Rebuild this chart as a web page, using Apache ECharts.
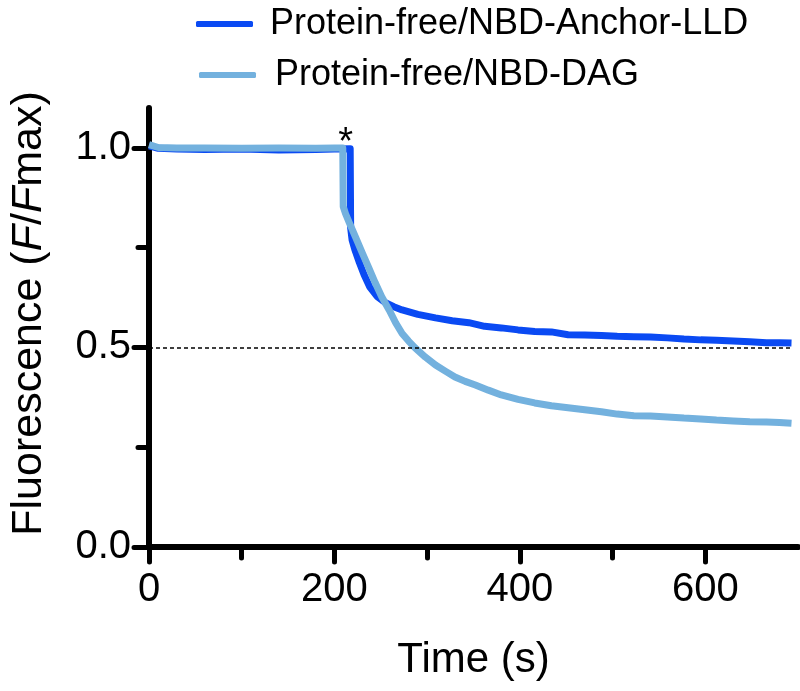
<!DOCTYPE html>
<html>
<head>
<meta charset="utf-8">
<script src="https://cdn.jsdelivr.net/npm/echarts@6/dist/echarts.min.js"></script>
<style>html,body{margin:0;padding:0;background:#fff}#c{width:800px;height:691px}</style>
</head>
<body>
<div id="c"></div>
<script>
// Series names
const nameAnchor = 'Protein-free/NBD-Anchor-LLD';
const nameDAG = 'Protein-free/NBD-DAG';

// Protein-free/NBD-Anchor-LLD (time s, F/Fmax)
const anchorTime = [0, 10, 30, 60, 100, 140, 180, 200, 217, 217.5, 219, 222, 227, 232, 238, 246, 255, 264, 273, 290, 309, 327, 345, 362, 380, 398, 416, 434, 452, 470, 488, 505, 523, 541, 559, 577, 595, 612, 630, 648, 666, 680, 693];
const anchorVal  = [1.005, 0.999, 0.997, 0.996, 0.997, 0.995, 0.996, 0.997, 0.998, 0.80, 0.77, 0.745, 0.712, 0.682, 0.652, 0.628, 0.612, 0.602, 0.594, 0.583, 0.574, 0.567, 0.562, 0.553, 0.549, 0.544, 0.540, 0.539, 0.532, 0.531, 0.530, 0.528, 0.527, 0.526, 0.524, 0.521, 0.519, 0.518, 0.516, 0.514, 0.512, 0.512, 0.511];

// Protein-free/NBD-DAG (time s, F/Fmax)
const dagTime = [0, 10, 30, 60, 100, 140, 180, 200, 209, 209.5, 212, 216, 223, 230, 237, 244, 251, 259, 266, 273, 280, 287, 298, 309, 320, 330, 341, 352, 366, 380, 398, 416, 434, 452, 470, 488, 505, 523, 541, 559, 577, 595, 612, 630, 648, 666, 680, 693];
const dagVal  = [1.008, 1.001, 1.0, 1.0, 0.999, 1.0, 0.999, 1.0, 1.0, 0.853, 0.835, 0.813, 0.775, 0.737, 0.70, 0.662, 0.627, 0.594, 0.562, 0.535, 0.516, 0.499, 0.476, 0.456, 0.440, 0.426, 0.415, 0.406, 0.393, 0.381, 0.370, 0.361, 0.354, 0.349, 0.344, 0.339, 0.333, 0.329, 0.328, 0.326, 0.323, 0.321, 0.318, 0.316, 0.314, 0.313, 0.312, 0.310];

// Axis ticks
const xLabelTicks = [0, 200, 400, 600];
const xMinorTicks = [100, 300, 500];
const yLabelTicks = [0, 0.5, 1.0];
const yMinorTicks = [0.25, 0.75];
const refLevel = 0.5;
const starPos = [212, 1.012];

const zip = (a, b) => a.map((v, i) => [v, b[i]]);
const FONT = 'Liberation Sans, Arial, sans-serif';

const chart = echarts.init(document.getElementById('c'), null, {renderer: 'canvas'});

const baseAxis = {
  axisLine: {show: true, lineStyle: {color: '#000', width: 6, cap: 'round'}},
  splitLine: {show: false}
};

chart.setOption({
  animation: false,
  backgroundColor: '#fff',
  grid: {left: 145, right: 2, top: 108, bottom: 144, containLabel: false},
  legend: [
    {data: [nameAnchor], left: 191, top: 1, orient: 'vertical', itemWidth: 57, itemHeight: 6, icon: 'roundRect',
     textStyle: {fontFamily: FONT, fontSize: 36, color: '#000', padding: [0, 0, 0, 12]}},
    {data: [nameDAG], left: 194, top: 52, orient: 'vertical', itemWidth: 57, itemHeight: 6, icon: 'roundRect',
     textStyle: {fontFamily: FONT, fontSize: 36, color: '#000', padding: [0, 0, 0, 14]}}
  ],
  xAxis: [
    Object.assign({}, baseAxis, {
      type: 'value', min: 0, max: 700,
      name: 'Time (s)', nameLocation: 'middle', nameGap: 92,
      nameTextStyle: {fontFamily: FONT, fontSize: 42, color: '#000'},
      axisTick: {show: true, customValues: xLabelTicks, length: 15, lineStyle: {color: '#000', width: 5, cap: 'round'}},
      axisLabel: {show: true, customValues: xLabelTicks, margin: 23, fontFamily: FONT, fontSize: 40, color: '#000'}
    }),
    {
      type: 'value', min: 0, max: 700, position: 'bottom',
      axisLine: {show: false}, splitLine: {show: false}, axisLabel: {show: false},
      axisTick: {show: true, customValues: xMinorTicks, length: 11, lineStyle: {color: '#000', width: 5, cap: 'round'}}
    }
  ],
  yAxis: [
    Object.assign({}, baseAxis, {
      type: 'value', min: 0, max: 1.1,
      name: '{n|Fluorescence (}{i|F}{n|/}{i|F}{n|max)}', nameLocation: 'middle', nameGap: 98, nameRotate: 90,
      nameTextStyle: {padding: [0, 0, 0, 28], rich: {
        n: {fontFamily: FONT, fontSize: 43, color: '#000'},
        i: {fontFamily: FONT, fontSize: 43, color: '#000', fontStyle: 'italic'}
      }},
      axisTick: {show: true, customValues: yLabelTicks, length: 15, lineStyle: {color: '#000', width: 5, cap: 'round'}},
      axisLabel: {show: true, customValues: yLabelTicks, margin: 18, fontFamily: FONT, fontSize: 40, color: '#000',
        formatter: v => v.toFixed(1)}
    }),
    {
      type: 'value', min: 0, max: 1.1, position: 'left',
      axisLine: {show: false}, splitLine: {show: false}, axisLabel: {show: false},
      axisTick: {show: true, customValues: yMinorTicks, length: 11, lineStyle: {color: '#000', width: 5, cap: 'round'}}
    }
  ],
  series: [
    {
      name: nameAnchor, type: 'line', xAxisIndex: 0, yAxisIndex: 0,
      data: zip(anchorTime, anchorVal), showSymbol: false, symbol: 'none',
      color: '#0a4af3', lineStyle: {color: '#0a4af3', width: 7, join: 'round'},
      markLine: {
        silent: true, symbol: ['none', 'none'], label: {show: false},
        lineStyle: {color: '#000', type: [4, 3], width: 1.6},
        data: [[{coord: [0, refLevel]}, {coord: [693, refLevel]}]]
      },
      markPoint: {
        silent: true, symbol: 'circle', symbolSize: 0,
        label: {show: true, formatter: '*', fontFamily: FONT, fontSize: 38, color: '#000', position: 'inside'},
        data: [{coord: starPos}]
      },
      z: 2
    },
    {
      name: nameDAG, type: 'line', xAxisIndex: 0, yAxisIndex: 0,
      data: zip(dagTime, dagVal), showSymbol: false, symbol: 'none',
      color: '#73b1de', lineStyle: {color: '#73b1de', width: 7, join: 'round'},
      z: 3
    }
  ]
});
</script>
</body>
</html>
